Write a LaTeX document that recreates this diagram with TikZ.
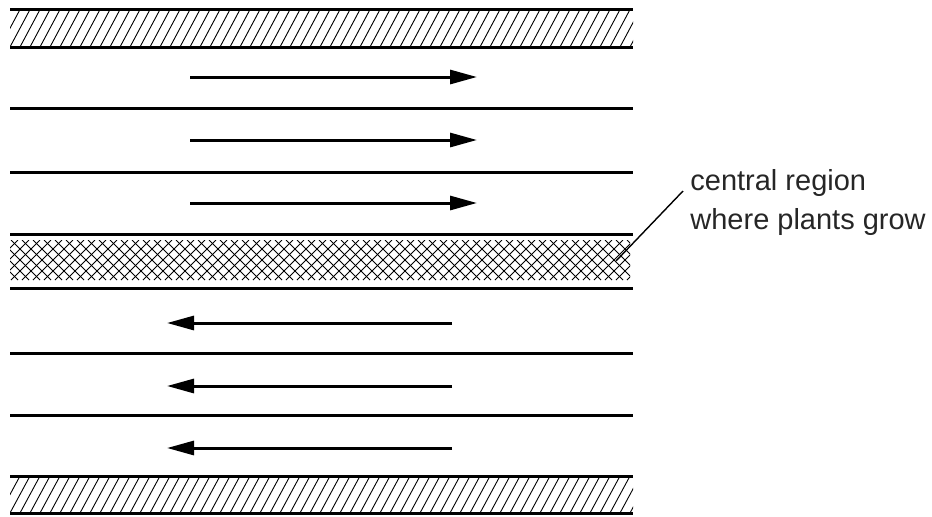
\documentclass[tikz,border=0pt]{standalone}
\usepackage{fontspec}
\setmainfont{Liberation Sans}
\usetikzlibrary{arrows.meta}
\begin{document}
\begin{tikzpicture}[x=0.5pt,y=-0.5pt,
  wall/.style={line width=1.5pt},
  hatchline/.style={line width=0.45pt},
  flow/.style={line width=1.5pt,-{Triangle[length=13.5pt,width=7pt]}},
  leader/.style={line width=0.7pt},
  lbl/.style={font=\fontsize{14.5pt}{19.5pt}\selectfont,text=black!85,align=left,inner sep=0pt}]
\useasboundingbox (0,0) rectangle (932,516);

% horizontal channel walls
\foreach \y in {9.5,47,108,172,234,288,353,415,476,513}
  \draw[wall] (10,\y) -- (633,\y);

% hatched outer walls
\begin{scope}
  \clip (10,9.5) rectangle (633,47);
  \foreach \i in {-30,-20,...,650}
    \draw[hatchline] (\i,47) -- ({\i+20},9.5);
\end{scope}
\begin{scope}
  \clip (10,476) rectangle (633,513);
  \foreach \i in {-30,-20,...,650}
    \draw[hatchline] (\i,513) -- ({\i+20},476);
\end{scope}

% cross-hatched central band
\begin{scope}
  \clip (10,240) rectangle (630,280);
  \foreach \i in {-44,-33,...,660} {
    \draw[hatchline] (\i,280) -- ({\i+40},240);
    \draw[hatchline] (\i,240) -- ({\i+40},280);
  }
\end{scope}

% flow arrows
\foreach \y in {77,140,203} {
  \coordinate (rs\y) at (190,\y);
  \coordinate (re\y) at (477,\y);
  \draw[flow] (rs\y) -- (re\y);
}
\foreach \y in {323,386,448} {
  \coordinate (ls\y) at (452,\y);
  \coordinate (le\y) at (167,\y);
  \draw[flow] (ls\y) -- (le\y);
}

% label with leader line
\node[lbl,anchor=base west] (label) at (690,229) {central region\\where plants grow};
\coordinate (tip) at (616,261);
\coordinate (lstart) at (683,191);
\draw[leader] (tip) -- (lstart);
\end{tikzpicture}
\end{document}
